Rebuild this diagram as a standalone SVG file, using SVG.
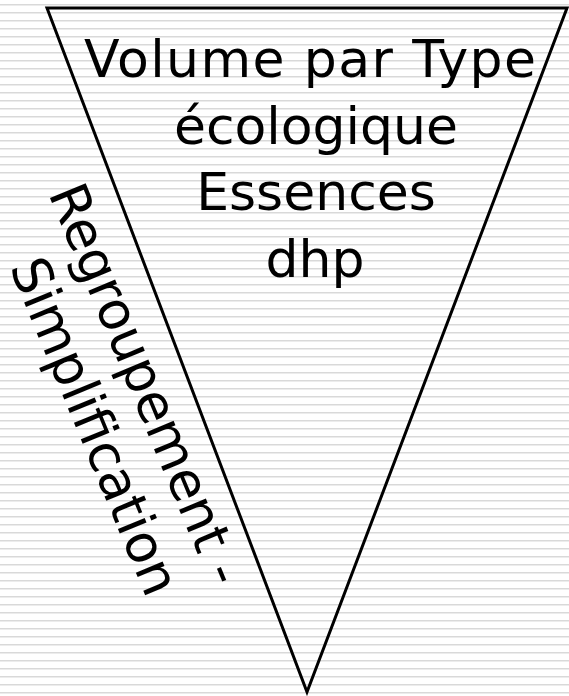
<svg xmlns="http://www.w3.org/2000/svg" width="569" height="696" viewBox="0 0 569 696">
  <defs>
    <!-- faint horizontal ruling of the slide background -->
    <pattern id="ruling" width="8" height="8" patternUnits="userSpaceOnUse">
      <rect width="8" height="8" fill="#ffffff"/>
      <rect y="4" width="8" height="1" fill="#d9d9d9"/>
      <rect y="5" width="8" height="1" fill="#ececec"/>
    </pattern>
    <style>
      .lbl { font-family: "DejaVu Sans", Verdana, sans-serif; font-size: 52px; fill: #000000; }
      .side { font-size: 53px; }
      .funnel { fill: none; stroke: #000000; stroke-width: 3; stroke-linejoin: miter; }
    </style>
  </defs>

  <rect width="569" height="696" fill="url(#ruling)"/>

  <!-- inverted triangle -->
  <g id="funnel">
    <polygon class="funnel" points="47,8 567,8 307,692"/>
  </g>

  <!-- labels inside the triangle -->
  <g id="levels" text-anchor="middle">
    <text class="lbl" x="310" y="77" textLength="452" lengthAdjust="spacing">Volume par Type</text>
    <text class="lbl" x="316" y="144">écologique</text>
    <text class="lbl" x="316" y="210">Essences</text>
    <text class="lbl" x="315" y="277">dhp</text>
  </g>

  <!-- slanted side label along the left edge -->
  <g id="side-label" transform="translate(130,391) rotate(67.5)" text-anchor="middle">
    <text class="lbl side" x="0" y="0">Regroupement -</text>
    <text class="lbl side" x="19" y="64">Simplification</text>
  </g>
</svg>
